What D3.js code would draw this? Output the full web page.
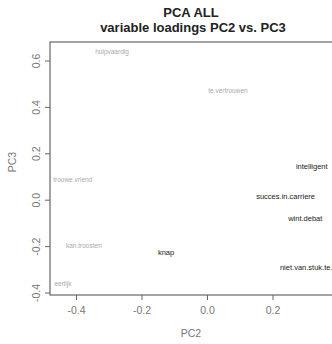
<!DOCTYPE html>
<html><head><meta charset="utf-8">
<script src="https://cdn.jsdelivr.net/npm/d3@7"></script>
<style>body{margin:0;background:#fff}svg{display:block}text{-webkit-font-smoothing:antialiased}</style>
</head><body>
<script>
const labels = ["hulpvaardig","te.vertrouwen","trouwe.vriend","intelligent","succes.in.carriere","wint.debat","knap","kan.troosten","niet.van.stuk.te.brengen","eerlijk"];
const pc2 = [-0.29, 0.064, -0.41, 0.32, 0.24, 0.30, -0.125, -0.376, 0.345, -0.44];
const pc3 = [0.64, 0.47, 0.09, 0.147, 0.017, -0.078, -0.224, -0.198, -0.29, -0.36];
const dark = [false,false,false,true,true,true,true,false,true,false];
const xTicks = [-0.4,-0.2,0.0,0.2];
const yTicks = [-0.4,-0.2,0.0,0.2,0.4,0.6];

const W=332,H=344;
const fmt=d=>d3.format(".1f")(d).replace("\u2212","-");
const svg=d3.select("body").append("svg").attr("width",W).attr("height",H);
const x=d3.scaleLinear().domain([-0.4,0.2]).range([76,272.5]);
const y=d3.scaleLinear().domain([-0.4,0.6]).range([293,61]);
const L=50,R=334,T=42,B=295;
const FF="Liberation Sans, Arial, sans-serif";

svg.append("rect").attr("x",L).attr("y",T).attr("width",R-L).attr("height",B-T)
  .attr("fill","none").attr("stroke","#666").attr("stroke-width",1.2);

const xa=svg.append("g").attr("transform",`translate(0,${B})`)
  .call(d3.axisBottom(x).tickValues(xTicks).tickFormat(fmt).tickSize(5).tickPadding(7));
xa.select(".domain").remove();
xa.selectAll("line").attr("stroke","#666");
xa.selectAll("text").attr("fill","#777").style("font-family",FF).style("font-size","10.5px");

const ya=svg.append("g").attr("transform",`translate(${L},0)`)
  .call(d3.axisLeft(y).tickValues(yTicks).tickFormat(fmt).tickSize(5));
ya.select(".domain").remove();
ya.selectAll("line").attr("stroke","#666");
ya.selectAll("text").attr("fill","#777").style("font-family",FF).style("font-size","10.5px")
  .attr("text-anchor","middle").attr("x",null).attr("dy",null)
  .attr("transform",d=>`translate(-14,${y(d)}) rotate(-90)`).attr("y",null).attr("dy","0.35em");
ya.selectAll(".tick").attr("transform",null);
ya.selectAll(".tick line").attr("transform",d=>`translate(0,${y(d)})`);

svg.append("text").attr("x",191).attr("y",17).attr("text-anchor","middle")
  .style("font-family",FF).style("font-weight","bold").style("font-size","13px").attr("fill","#222").text("PCA ALL");
svg.append("text").attr("x",193).attr("y",32).attr("text-anchor","middle")
  .style("font-family",FF).style("font-weight","bold").style("font-size","13px").attr("fill","#222").text("variable loadings PC2 vs. PC3");
svg.append("text").attr("x",191).attr("y",337).attr("text-anchor","middle")
  .style("font-family",FF).style("font-size","10.5px").attr("fill","#777").text("PC2");
svg.append("text").attr("transform","translate(16,162) rotate(-90)").attr("text-anchor","middle")
  .style("font-family",FF).style("font-size","10.5px").attr("fill","#777").text("PC3");

const pts=labels.map((l,i)=>({l,x:pc2[i],y:pc3[i],d:dark[i]}));
svg.append("g").selectAll("text").data(pts).join("text")
  .attr("x",d=>x(d.x)).attr("y",d=>y(d.y)).attr("dy","0.35em").attr("text-anchor","middle")
  .style("font-family",FF)
  .style("font-size",d=>d.d?"7.5px":"6.5px")
  .attr("fill",d=>d.d?"#1a1a1a":"#aaa")
  .text(d=>d.l);
</script>
</body></html>
